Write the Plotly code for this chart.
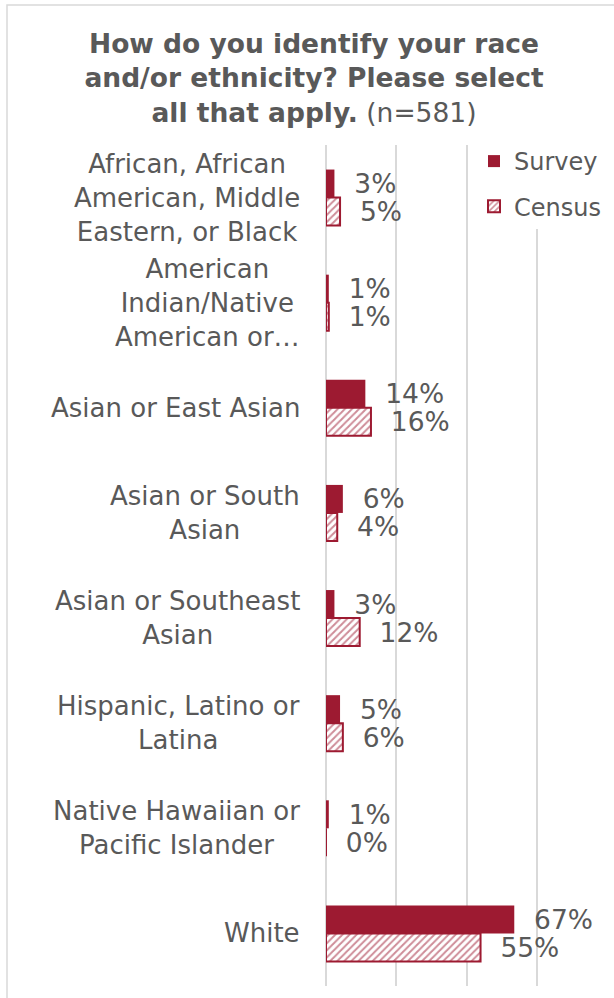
import plotly.graph_objects as go

categories = [
    "African, African<br>American, Middle<br>Eastern, or Black",
    "American<br>Indian/Native<br>American or…",
    "Asian or East Asian",
    "Asian or South<br>Asian",
    "Asian or Southeast<br>Asian",
    "Hispanic, Latino or<br>Latina",
    "Native Hawaiian or<br>Pacific Islander",
    "White",
]
survey = [3, 1, 14, 6, 3, 5, 1, 67]
census = [5, 1, 16, 4, 12, 6, 0, 55]

CRIMSON = "#9D1A31"
GREY = "#595959"
FONT = "Verdana, DejaVu Sans, sans-serif"

W, H = 614, 998
L, R, T, B = 326, 7, 145, 12
pw = W - L - R
ph = H - T - B

fig = go.Figure()
fig.add_trace(go.Bar(
    name="Survey", y=categories, x=survey, orientation="h", legendgroup="s",
    marker=dict(color=CRIMSON, line=dict(color=CRIMSON, width=0)),
    text=[f"\u00a0\u00a0{v}%" for v in survey], textposition="outside",
    textfont=dict(size=26.5, color=GREY, family=FONT),
    constraintext="none", cliponaxis=False, hoverinfo="skip",
))
fig.add_trace(go.Bar(
    name="Census", y=categories, x=census, orientation="h", legendgroup="c",
    marker=dict(color="white", line=dict(color=CRIMSON, width=2),
                pattern=dict(shape="/", fgcolor=CRIMSON, bgcolor="white",
                             size=5, solidity=0.4)),
    text=[f"\u00a0\u00a0{v}%" for v in census], textposition="outside",
    textfont=dict(size=26.5, color=GREY, family=FONT),
    constraintext="none", cliponaxis=False, hoverinfo="skip",
))

for c in categories:
    fig.add_annotation(
        x=0, xref="paper", y=c, yref="y", xanchor="right", yanchor="middle",
        xshift=-24, text=c, showarrow=False, align="center",
        font=dict(size=26, color=GREY, family=FONT),
    )

# outer chart border
fig.add_shape(
    type="rect", xref="paper", yref="paper",
    x0=(7 - L) / pw, x1=(W + 10 - L) / pw,
    y0=-(20) / ph, y1=(H - B - 5) / ph,
    line=dict(color="#D9D9D9", width=1.5), fillcolor="rgba(0,0,0,0)",
    layer="below",
)

fig.update_layout(
    width=W, height=H,
    margin=dict(l=L, r=R, t=T, b=B),
    paper_bgcolor="white", plot_bgcolor="white",
    barmode="group", bargap=0.467, bargroupgap=0,
    font=dict(family=FONT, color=GREY),
    title=dict(
        text="<b>How do you identify your race<br>and/or ethnicity? Please select<br>all that apply.</b> (n=581)",
        x=314 / W, xref="container", xanchor="center",
        y=1 - 53 / H, yref="container", yanchor="top",
        font=dict(size=26.5, color=GREY, family=FONT),
    ),
    xaxis=dict(
        range=[0, 100], dtick=25, showgrid=True, gridcolor="#D9D9D9", gridwidth=2,
        zeroline=True, zerolinecolor="#D9D9D9", zerolinewidth=2,
        showticklabels=False, showline=False, ticks="",
    ),
    yaxis=dict(
        autorange="reversed", showticklabels=False, showgrid=False,
        ticks="", showline=False,
    ),
    legend=dict(
        x=(474 - L) / pw, xanchor="left", y=1 + 6 / ph, yanchor="top",
        bgcolor="white", font=dict(size=24, color=GREY, family=FONT),
        traceorder="grouped", tracegroupgap=11, itemclick=False,
    ),
    showlegend=True,
)

fig.write_html("out.html", config={"displayModeBar": False},
               post_script="document.body.style.margin='0';")
